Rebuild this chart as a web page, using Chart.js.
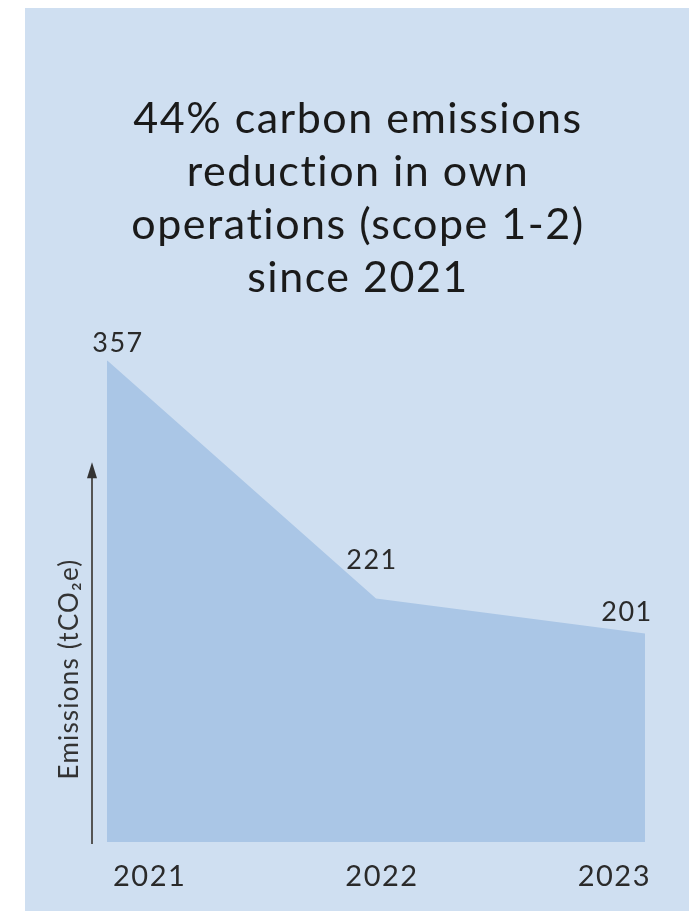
<!DOCTYPE html>
<html>
<head>
<meta charset="utf-8">
<script src="https://cdn.jsdelivr.net/npm/chart.js@4/dist/chart.umd.min.js"></script>
<style>
  html, body { margin: 0; padding: 0; background: #fff; }
  #panel { position: absolute; left: 25px; top: 8px; width: 664px; height: 903px; background: #cfdff1; }
  #chart { position: absolute; left: 0; top: 0; }
</style>
</head>
<body>
<div id="panel"></div>
<canvas id="chart" width="699" height="911"></canvas>
<script>
  // Scope 1-2 emissions, tCO2e
  const years = ['2021', '2022', '2023'];
  const emissions = [357, 221, 201];
  const titleLines = ['44% carbon emissions', 'reduction in own', 'operations (scope 1-2)', 'since 2021'];
  const axisTitle = 'Emissions (tCO\u2082e)';
  const yMin = 82;
  const yMax = 357;

  const FONT = 'Lato, sans-serif';
  const TEXT = '#2a2a2a';
  const SPACING = '1.5px';

  // nudges for the value labels, relative to each point
  const labelNudge = [[11, -17], [-4, -38], [-18, -21]];

  function applySpacing(chart) {
    chart.ctx.letterSpacing = SPACING;
  }

  const decorations = {
    id: 'decorations',
    beforeLayout: applySpacing,
    beforeDraw: applySpacing,
    afterDatasetsDraw(chart) {
      const ctx = chart.ctx;
      const area = chart.chartArea;
      const meta = chart.getDatasetMeta(0);

      // value labels above each point
      ctx.save();
      ctx.font = '27px ' + FONT;
      ctx.fillStyle = TEXT;
      ctx.textAlign = 'center';
      ctx.textBaseline = 'middle';
      meta.data.forEach((pt, i) => {
        ctx.fillText(String(emissions[i]), pt.x + labelNudge[i][0], pt.y + labelNudge[i][1]);
      });
      ctx.restore();

      // axis arrow
      const ax = area.left - 15;
      const tip = area.top + 102;
      ctx.save();
      ctx.strokeStyle = '#555';
      ctx.fillStyle = '#333';
      ctx.lineWidth = 2;
      ctx.beginPath();
      ctx.moveTo(ax, area.bottom + 2);
      ctx.lineTo(ax, tip + 10);
      ctx.stroke();
      ctx.beginPath();
      ctx.moveTo(ax, tip);
      ctx.lineTo(ax - 5, tip + 16);
      ctx.lineTo(ax + 5, tip + 16);
      ctx.closePath();
      ctx.fill();

      // axis title, rotated
      ctx.translate(area.left - 37, area.bottom - 173);
      ctx.rotate(-Math.PI / 2);
      ctx.font = '26px ' + FONT;
      ctx.letterSpacing = '1.2px';
      ctx.fillStyle = '#333';
      ctx.textAlign = 'center';
      ctx.textBaseline = 'middle';
      ctx.fillText(axisTitle, 0, 0);
      ctx.restore();
    }
  };

  new Chart(document.getElementById('chart'), {
    type: 'line',
    data: {
      labels: years,
      datasets: [{
        data: emissions,
        fill: 'start',
        backgroundColor: '#aac6e6',
        borderWidth: 0,
        pointRadius: 0,
        tension: 0
      }]
    },
    options: {
      responsive: false,
      animation: false,
      layout: { padding: { left: 30, right: 13, top: 0, bottom: 0 } },
      plugins: {
        legend: { display: false },
        tooltip: { enabled: false },
        title: {
          display: true,
          text: titleLines,
          color: '#1a1a1a',
          font: { family: FONT, size: 43, weight: 'normal', lineHeight: 1.24 },
          padding: { top: 92, bottom: 55 }
        }
      },
      scales: {
        x: {
          offset: false,
          grid: { display: false, drawTicks: false },
          border: { display: false },
          ticks: { align: 'inner', labelOffset: 6, color: TEXT, font: { family: FONT, size: 29 }, padding: 17, maxRotation: 0 },
          afterFit: s => { s.height = 69; }
        },
        y: {
          min: yMin,
          max: yMax,
          grid: { display: false },
          border: { display: false },
          ticks: { display: false },
          afterFit: s => { s.width = 77; }
        },
        yRight: {
          type: 'linear',
          position: 'right',
          grid: { display: false },
          border: { display: false },
          ticks: { display: false },
          afterFit: s => { s.width = 41; }
        }
      }
    },
    plugins: [decorations]
  });
</script>
</body>
</html>
